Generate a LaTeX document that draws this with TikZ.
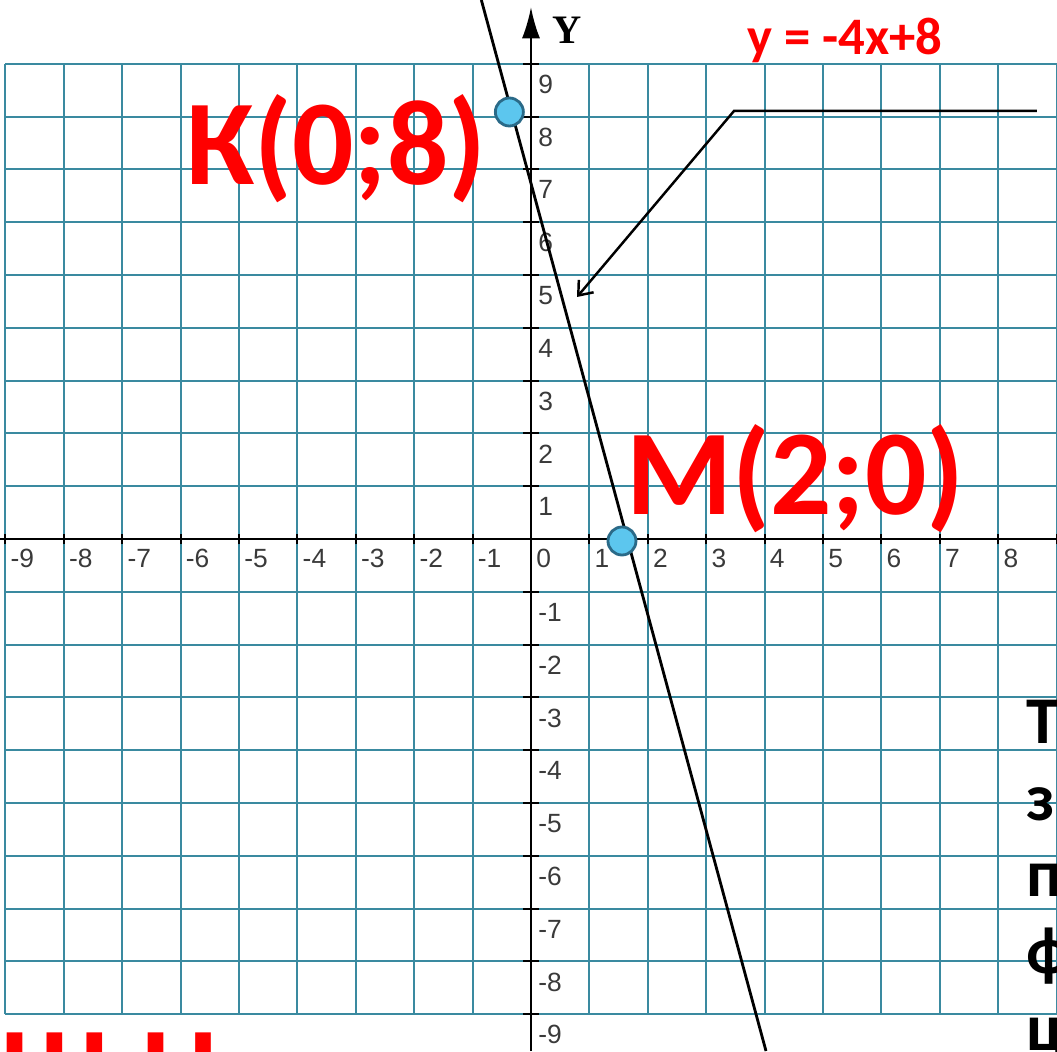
\documentclass[tikz,border=0pt]{standalone}
\usepackage{fontspec}
\usepackage{tikz}
\usetikzlibrary{arrows.meta}
\setmainfont{Carlito}
\newfontfamily\ticknum{Liberation Sans}
\newfontfamily\axisname{Liberation Serif}
\definecolor{gridteal}{HTML}{3A8AA0}
\definecolor{dotblue}{HTML}{5CC6EE}
\definecolor{dotedge}{HTML}{2A6A88}
\definecolor{numgray}{HTML}{3A3A3A}
\definecolor{pointred}{HTML}{FF0000}

\begin{document}
\begin{tikzpicture}[x=1.168cm,y=1.056cm,
  gridline/.style={gridteal,line width=1.1pt},
  axisline/.style={black,line width=1.1pt},
  point/.style={circle,fill=dotblue,draw=dotedge,line width=1.6pt,minimum size=0.56cm,inner sep=0pt},
  bigred/.style={pointred,font=\fontsize{69}{69}\selectfont\bfseries,inner sep=0pt,anchor=base west},
  ticknumber/.style={numgray,font=\ticknum\fontsize{15}{15}\selectfont,inner sep=0pt,anchor=north west}]
\useasboundingbox (-9.092,-9.697) rectangle (9.007,10.208);
\clip (-9.092,-9.697) rectangle (9.007,10.208);
\fill[white] (-9.092,-9.697) rectangle (9.007,10.208);
\foreach \k in {-9,...,9} {
  \draw[gridline] (\k,-9) -- (\k,9);
  \draw[gridline] (-9,\k) -- (9,\k);
}
\draw[axisline] (-9.092,0) -- (9.007,0);
\draw[axisline,-{Latex[length=0.62cm,width=0.36cm]}] (0,-9.697) -- (0,10.07);
\foreach \k in {-9,...,9} {
  \draw[axisline] (\k,-0.1) -- (\k,0.1);
  \draw[axisline] (-0.14,\k) -- (0.14,\k);
}
\foreach \k in {-9,...,8}
  \node[ticknumber,xshift=0.1cm,yshift=-0.2cm] (xnum\k) at (\k,0) {\k};
\foreach \k in {-9,...,-1,1,2,...,9}
  \node[ticknumber,xshift=0.14cm,yshift=-0.22cm] (ynum\k) at (0,\k) {\k};
\node[font=\axisname\bfseries\fontsize{23}{23}\selectfont,inner sep=0pt] (yname) at (0.616,9.64) {Y};

\coordinate (top) at (-0.85,10.208);
\coordinate (bottom) at (4.024,-9.697);
\draw[line width=1.6pt] (top) -- (bottom);
\node[point] (K) at (-0.37,8.087) {};
\node[point] (M) at (1.558,-0.038) {};
\node[bigred] (Klabel) at (-5.908,6.705) {К(0;8)};
\node[bigred] (Mlabel) at (1.627,0.4545) {М(2;0)};

\node[pointred,font=\fontsize{30}{30}\selectfont\bfseries,inner sep=0pt,anchor=base west] (eq) at (3.699,9.167) {y = -4x+8};
\coordinate (tip) at (0.788,4.583);
\coordinate (elbow) at (3.476,8.106);
\coordinate (tail) at (8.664,8.106);
\draw[line width=1.4pt,-{Straight Barb[length=7pt,width=11pt]}] (tail) -- (elbow) -- (tip);

\foreach \ch [count=\i from 0] in {Т,з,п,ф,ц}
  \node[font=\fontsize{38}{38}\selectfont\bfseries,inner sep=0pt,anchor=base west] (line\i) at (8.479,-3.864-1.458*\i) {\ch};
\node[bigred] (cutA) at (-9.092,-10.85) {Ш};
\node[bigred] (cutB) at (-6.678,-10.85) {Н};
\end{tikzpicture}
\end{document}
